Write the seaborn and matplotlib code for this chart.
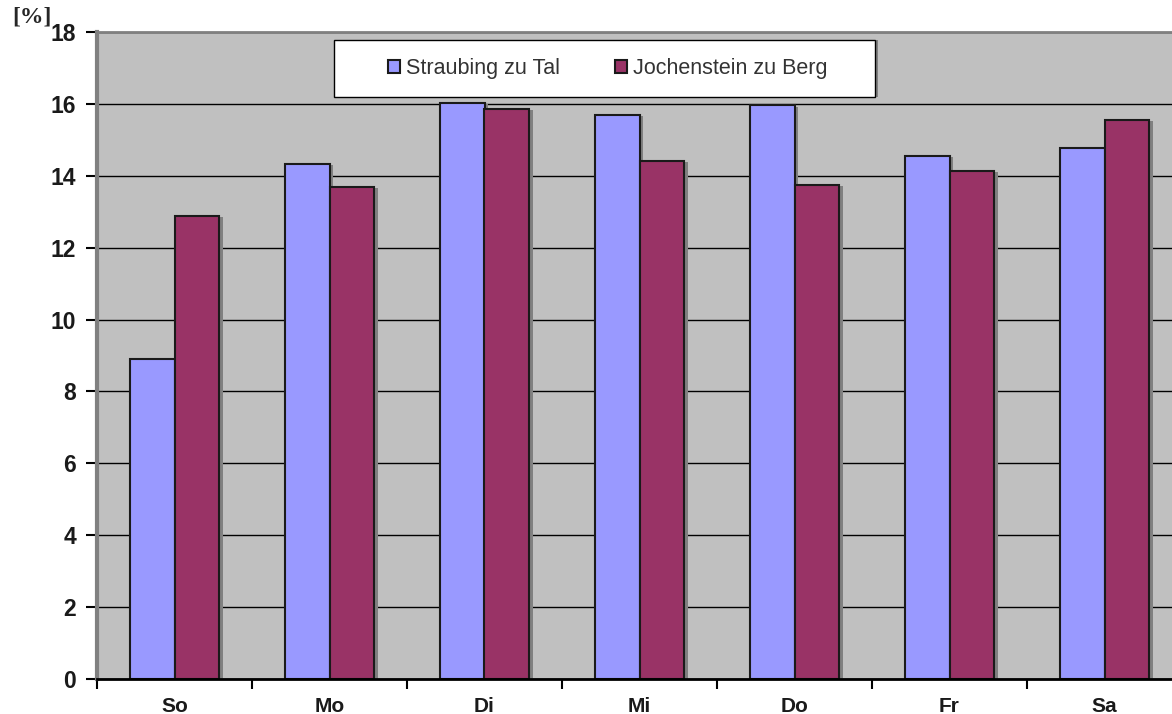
import pandas as pd
import seaborn as sns
import matplotlib
matplotlib.use('Agg')
import matplotlib.pyplot as plt
import matplotlib.patheffects as pe
from matplotlib.patches import Patch, Rectangle
from matplotlib.ticker import MultipleLocator

# data
days = ['So', 'Mo', 'Di', 'Mi', 'Do', 'Fr', 'Sa']
series_names = ['Straubing zu Tal', 'Jochenstein zu Berg']
straubing = [8.90, 14.34, 16.03, 15.70, 15.96, 14.56, 14.77]
jochenstein = [12.88, 13.69, 15.86, 14.42, 13.75, 14.14, 15.56]
y_ticks = list(range(0, 19, 2))

colors = ['#9999FF', '#993366']

df = pd.DataFrame({
    'Tag': days * 2,
    'Serie': [series_names[0]] * len(days) + [series_names[1]] * len(days),
    'Wert': straubing + jochenstein,
})

sns.set_theme(style='white')
plt.rcParams['font.family'] = ['Liberation Sans', 'DejaVu Sans']

fig = plt.figure(figsize=(11.72, 7.14), dpi=100)
ax = fig.add_axes([97 / 1172, 35 / 714, 1085 / 1172, 647 / 714])
ax.set_facecolor('#C0C0C0')

sns.barplot(data=df, x='Tag', y='Wert', hue='Serie', palette=colors,
            width=0.575, gap=0, order=days, hue_order=series_names,
            edgecolor='#1a1a1a', linewidth=1.5, saturation=1, ax=ax,
            legend=False)

# little gray drop shadow like the old Excel chart
for bar in ax.patches:
    bar.set_path_effects([pe.SimplePatchShadow(offset=(2.5, -1), shadow_rgbFace='#808080', alpha=1),
                          pe.Normal()])

ax.set_ylim(0, 18)
ax.set_xlim(-0.5, 6.5)
ax.set_yticks(y_ticks)
ax.yaxis.grid(True, color='black', linewidth=1)
ax.set_axisbelow(True)

ax.set_xlabel('')
ax.set_ylabel('')
ax.xaxis.set_minor_locator(MultipleLocator(1, offset=0.5))
ax.tick_params(axis='x', which='major', length=0, pad=13, labelsize=15)
ax.tick_params(axis='x', which='minor', length=7, width=1.5, color='black', direction='out', bottom=True)
ax.tick_params(axis='y', length=8, width=1.5, color='black', direction='out', left=True, pad=7, labelsize=16.5)
for lab in ax.get_xticklabels() + ax.get_yticklabels():
    lab.set_fontweight('bold')
    lab.set_color('#1a1a1a')

ax.spines['left'].set_color('#808080')
ax.spines['left'].set_linewidth(3)
ax.spines['top'].set_color('#808080')
ax.spines['top'].set_linewidth(2)
ax.spines['bottom'].set_color('black')
ax.spines['bottom'].set_linewidth(2)
ax.spines['right'].set_visible(False)

# legend box: white frame with gray sides, entries centred inside
box = Rectangle((0.218, 0.899), 0.499, 0.088, transform=ax.transAxes,
                facecolor='white', edgecolor='black', linewidth=1, zorder=5)
box.set_path_effects([pe.SimplePatchShadow(offset=(2, 0), shadow_rgbFace='#808080', alpha=1),
                      pe.Normal()])
ax.add_patch(box)
handles = [Patch(facecolor=c, edgecolor='#1a1a1a', linewidth=1.5) for c in colors]
leg = ax.legend(handles, series_names, ncol=2, loc='center',
                bbox_to_anchor=(0.221 + 0.499 / 2, 0.899 + 0.088 / 2),
                frameon=False, fontsize=15.5, handlelength=0.56,
                handleheight=0.56, handletextpad=0.28, columnspacing=2.55,
                borderpad=0, borderaxespad=0)
leg.set_zorder(6)
for t in leg.get_texts():
    t.set_color('#333333')

fig.text(12 / 1172, 1 - 7 / 714, '[%]', ha='left', va='top', fontsize=17,
         fontweight='bold', family=['Liberation Serif', 'DejaVu Serif'])

fig.savefig('out.png', dpi=100)
